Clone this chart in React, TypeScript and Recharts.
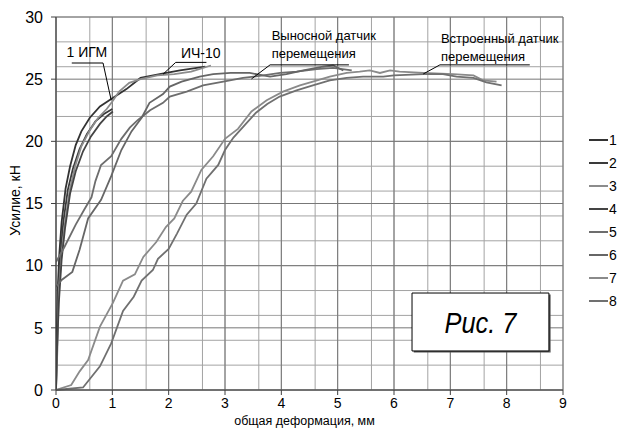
import {
  LineChart,
  Line,
  XAxis,
  YAxis,
  CartesianGrid,
  ReferenceLine,
  ReferenceDot,
  ReferenceArea,
} from 'recharts';

// curve 1 – ИЧ-10, runs out to ~2.65 mm
const s1x = [0, 0.01, 0.03, 0.06, 0.1, 0.17, 0.25, 0.35, 0.45, 0.6, 0.78, 0.98, 1.25, 1.5, 1.84, 2.2, 2.5, 2.65];
const s1y = [0, 4, 8, 11, 13.5, 16.2, 18, 19.7, 20.8, 21.9, 22.8, 23.4, 24.2, 25.1, 25.4, 25.7, 25.9, 26.0];
// curve 2 – 1 ИГМ, stops at 1 mm
const s2x = [0, 0.02, 0.04, 0.08, 0.13, 0.21, 0.3, 0.42, 0.55, 0.7, 0.85, 1.0];
const s2y = [0, 4, 8, 11, 13.5, 16.1, 17.8, 19.4, 20.6, 21.6, 22.2, 22.6];
// curve 3 – with the bump near 1.3 mm
const s3x = [0, 0.03, 0.05, 0.1, 0.16, 0.24, 0.34, 0.45, 0.6, 0.75, 0.9, 1.0, 1.12, 1.3, 1.5, 1.8, 2.1, 2.4, 2.75];
const s3y = [0, 4, 8, 11, 13.5, 16, 18, 19.6, 20.9, 21.9, 22.6, 23.2, 24.0, 24.7, 25.0, 25.3, 25.4, 25.6, 26.1];
// curve 4 – 1 ИГМ, stops at 1 mm
const s4x = [0, 0.02, 0.05, 0.1, 0.16, 0.25, 0.35, 0.48, 0.62, 0.78, 0.9, 1.01];
const s4y = [0, 3.5, 7, 10.5, 13, 15.8, 17.6, 19.2, 20.4, 21.4, 22, 22.4];
// curves 5, 6 – выносной датчик
const s5x = [0, 0.15, 0.35, 0.5, 0.63, 0.7, 0.8, 0.98, 1.16, 1.31, 1.45, 1.67, 1.9, 2.02, 2.32, 2.61, 2.97, 3.32, 3.68, 3.98, 4.27, 4.63, 4.92, 5.25];
const s5y = [10.3, 11.5, 13.3, 14.5, 15.5, 16.8, 18.1, 18.8, 20.2, 21.1, 21.7, 22.5, 23.1, 23.6, 24.0, 24.5, 24.8, 25.1, 25.3, 25.5, 25.6, 25.8, 25.9, 25.7];
const s6x = [0, 0.1, 0.29, 0.42, 0.57, 0.8, 0.98, 1.16, 1.34, 1.52, 1.66, 1.9, 2.02, 2.23, 2.55, 2.79, 3.1, 3.44, 3.8, 4.09, 4.39, 4.74, 4.92, 5.1];
const s6y = [8.3, 8.85, 9.5, 11.3, 13.8, 15.3, 17.2, 19.3, 20.8, 21.9, 23.1, 23.8, 24.4, 24.8, 25.2, 25.4, 25.5, 25.5, 25.2, 25.4, 25.7, 26.0, 26.1, 25.7];
// curves 7, 8 – встроенный датчик
const s7x = [0, 0.27, 0.42, 0.57, 0.78, 1.01, 1.19, 1.4, 1.55, 1.78, 1.95, 2.1, 2.25, 2.4, 2.58, 2.79, 3.0, 3.23, 3.47, 3.74, 4.03, 4.33, 4.56, 4.86, 5.16, 5.39, 5.57, 5.75, 5.93, 6.1, 6.52, 7.05, 7.41, 7.58, 7.82];
const s7y = [0, 0.4, 1.5, 2.4, 5.1, 7.0, 8.8, 9.3, 10.7, 11.9, 13.1, 13.8, 15.2, 15.95, 17.7, 18.8, 20.2, 21.0, 22.4, 23.3, 24.0, 24.5, 24.8, 25.2, 25.5, 25.6, 25.7, 25.5, 25.7, 25.6, 25.5, 25.4, 25.3, 24.9, 24.8];
const s8x = [0, 0.48, 0.78, 0.98, 1.19, 1.38, 1.52, 1.72, 1.81, 2.0, 2.15, 2.32, 2.49, 2.67, 2.88, 3.0, 3.15, 3.35, 3.55, 3.75, 3.97, 4.27, 4.56, 4.86, 5.16, 5.45, 5.81, 6.0, 6.52, 6.87, 7.11, 7.41, 7.64, 7.91];
const s8y = [0, 0.2, 1.9, 3.75, 6.35, 7.5, 8.8, 9.65, 10.55, 11.35, 12.6, 14.1, 15.0, 17.0, 18.1, 19.3, 20.3, 21.3, 22.3, 23.0, 23.6, 24.1, 24.5, 24.9, 25.1, 25.2, 25.2, 25.3, 25.4, 25.4, 25.2, 25.1, 24.75, 24.5];

const seriesNames = ['1', '2', '3', '4', '5', '6', '7', '8'];
const seriesColors = ['#333333', '#3a3a3a', '#8c8c8c', '#444444', '#6d6d6d', '#666666', '#8a8a8a', '#707070'];
const seriesX = [s1x, s2x, s3x, s4x, s5x, s6x, s7x, s8x];
const seriesY = [s1y, s2y, s3y, s4y, s5y, s6y, s7y, s8y];

const xTicks = [0, 1, 2, 3, 4, 5, 6, 7, 8, 9];
const yTicks = [0, 5, 10, 15, 20, 25, 30];
const minorX = Array.from({ length: 46 }, (_, i) => +(i * 0.2).toFixed(1));
const minorY = Array.from({ length: 31 }, (_, i) => i);

const series = seriesNames.map((name, i) => ({
  name,
  color: seriesColors[i],
  data: seriesX[i].map((x, j) => ({ x, y: seriesY[i][j] })),
}));

const FONT = "'Liberation Sans', Arial, sans-serif";

function Note({ x, y, text, size = 13 }: { x: number; y: number; text: string; size?: number }) {
  return (
    <ReferenceDot
      x={x}
      y={y}
      r={1}
      fill="none"
      stroke="none"
      ifOverflow="visible"
      label={{ value: text, position: 'right', offset: 0, fill: '#000', fontSize: size }}
    />
  );
}

function Seg({ x1, y1, x2, y2 }: { x1: number; y1: number; x2: number; y2: number }) {
  return (
    <ReferenceLine
      segment={[{ x: x1, y: y1 }, { x: x2, y: y2 }]}
      stroke="#000"
      strokeWidth={1}
      ifOverflow="visible"
    />
  );
}

const figLabel = (props: any) => {
  const vb = props.viewBox;
  const cx = vb.x + vb.width / 2;
  const cy = vb.y + vb.height / 2;
  return (
    <text
      x={cx}
      y={cy + 11}
      textAnchor="middle"
      fontSize={30}
      fontStyle="italic"
      fill="#000"
      textLength={72}
      lengthAdjust="spacingAndGlyphs"
    >
      Рис. 7
    </text>
  );
};

export default function App() {
  return (
    <div style={{ position: 'absolute', left: 0, top: 0, width: 619, height: 428, background: '#fff', fontFamily: FONT }}>
      <LineChart width={619} height={428} margin={{ top: 17, right: 56, bottom: 0, left: 0 }}>
        <CartesianGrid stroke="#a3a3a3" strokeWidth={1} verticalValues={minorX} horizontalValues={minorY} />
        <CartesianGrid stroke="#777777" strokeWidth={1} verticalValues={xTicks} horizontalValues={yTicks} />
        <XAxis
          dataKey="x"
          type="number"
          domain={[0, 9]}
          ticks={xTicks}
          allowDataOverflow
          height={38}
          tickSize={5}
          tickMargin={3}
          stroke="#404040"
          tick={{ fill: '#000', fontSize: 14 }}
          label={{ value: 'общая деформация, мм', position: 'insideBottom', offset: 3, dx: -5, fill: '#000', fontSize: 12.5 }}
        />
        <YAxis
          type="number"
          domain={[0, 30]}
          ticks={yTicks}
          width={56}
          tickSize={5}
          tickMargin={8}
          stroke="#404040"
          tick={{ fill: '#000', fontSize: 16 }}
          label={({ viewBox }: any) => (
            <text
              x={20}
              y={viewBox.y + viewBox.height / 2 - 3}
              transform={`rotate(-90 20 ${viewBox.y + viewBox.height / 2 - 3})`}
              textAnchor="middle"
              fontSize={14}
              fill="#000"
            >
              Усилие, кН
            </text>
          )}
        />
        {series.map((s) => (
          <Line
            key={s.name}
            data={s.data}
            dataKey="y"
            name={s.name}
            type="linear"
            stroke={s.color}
            strokeWidth={1.8}
            dot={false}
            activeDot={false}
            isAnimationActive={false}
          />
        ))}

        {/* 1 ИГМ */}
        <Note x={0.17} y={27.2} text="1 ИГМ" size={14} />
        <Seg x1={0.28} y1={26.3} x2={0.835} y2={26.3} />
        <Seg x1={0.835} y1={26.3} x2={0.98} y2={23.3} />
        {/* ИЧ-10 */}
        <Note x={2.2} y={27.1} text="ИЧ-10" size={14} />
        <Seg x1={2.125} y1={26.35} x2={2.67} y2={26.35} />
        <Seg x1={2.125} y1={26.35} x2={1.9} y2={25.4} />
        {/* Выносной датчик */}
        <Note x={3.81} y={28.56} text="Выносной  датчик" />
        <Note x={3.81} y={27.09} text="перемещения" />
        <Seg x1={3.8} y1={26.15} x2={5.2} y2={26.15} />
        <Seg x1={3.8} y1={26.15} x2={3.47} y2={25.02} />
        {/* Встроенный датчик */}
        <Note x={6.815} y={28.3} text="Встроенный  датчик" />
        <Note x={6.815} y={26.8} text="перемещения" />
        <Seg x1={6.815} y1={26.15} x2={8.41} y2={26.15} />
        <Seg x1={6.815} y1={26.15} x2={6.52} y2={25.42} />

        {/* Рис. 7 */}
        <ReferenceArea x1={6.35} x2={8.78} y1={3.02} y2={7.68} fill="#555" fillOpacity={1} stroke="none" ifOverflow="visible" />
        <ReferenceArea
          x1={6.32}
          x2={8.75}
          y1={3.14}
          y2={7.8}
          fill="#fff"
          fillOpacity={1}
          stroke="#000"
          strokeWidth={1}
          ifOverflow="visible"
          label={figLabel}
        />
      </LineChart>

      {series.map((s, i) => (
        <div
          key={s.name}
          style={{
            position: 'absolute',
            left: 589,
            top: 140 + i * 23 - 9,
            height: 18,
            display: 'flex',
            alignItems: 'center',
            fontSize: 14,
            color: '#000',
          }}
        >
          <span style={{ display: 'inline-block', width: 19, height: 2, background: s.color, marginRight: 1 }} />
          <span>{s.name}</span>
        </div>
      ))}
    </div>
  );
}
